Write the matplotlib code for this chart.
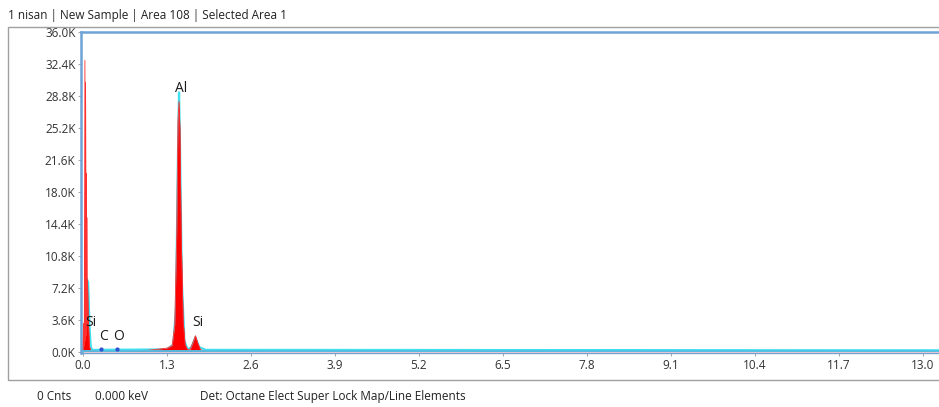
import numpy as np
import matplotlib.pyplot as plt
from matplotlib.patches import Rectangle

plt.rcParams['font.family'] = ['Open Sans', 'DejaVu Sans']

# red spectrum (keV, counts)
energy = [0.0, 0.01, 0.02, 0.03, 0.035, 0.04, 0.045, 0.05, 0.055, 0.06, 0.065,
          0.07, 0.08, 0.09, 0.10, 0.12, 0.26, 0.28, 0.30, 0.50, 0.52, 0.55,
          1.0, 1.3, 1.38, 1.42, 1.45, 1.47, 1.487, 1.50, 1.52, 1.55, 1.58,
          1.62, 1.66, 1.70, 1.74, 1.78, 1.82, 1.9, 13.3]
counts = [0, 3200, 600, 32800, 1200, 30300, 2200, 20100, 1800, 15100, 3200,
          8000, 4200, 2200, 600, 150, 100, 250, 100, 100, 250, 100,
          150, 400, 700, 3000, 13000, 26000, 28200, 25000, 13000, 3500, 800,
          200, 300, 1000, 1800, 900, 200, 100, 60]

# cyan spectrum (outline)
energy2 = [0.0, 0.04, 0.06, 0.08, 0.10, 0.12, 0.14, 1.3, 1.40, 1.44, 1.47,
           1.487, 1.50, 1.53, 1.57, 1.62, 1.68, 1.74, 1.80, 1.9, 13.3]
counts2 = [0, 2000, 8200, 7800, 3000, 600, 200, 250, 800, 5000, 22000,
           29200, 24000, 8000, 1200, 250, 500, 1600, 500, 200, 150]

peak_labels = ['Si', 'C', 'O', 'Al', 'Si']
peak_x = [0.13, 0.32, 0.55, 1.52, 1.78]
peak_y = [3300, 1700, 1700, 29600, 3300]

xticks = [0.0, 1.3, 2.6, 3.9, 5.2, 6.5, 7.8, 9.1, 10.4, 11.7, 13.0]
yticks = [0, 3600, 7200, 10800, 14400, 18000, 21600, 25200, 28800, 32400, 36000]

fig = plt.figure(figsize=(9.39, 4.07), dpi=100)
fig.patches.append(Rectangle((0.0085, 0.066), 1.0, 0.8675, transform=fig.transFigure,
                             fill=False, edgecolor='#a0a0a0', linewidth=1.0))
ax = fig.add_axes([0.0863, 0.1327, 0.9137, 0.7887])

ax.plot(energy2, counts2, color='#40e0f0', linewidth=1.6, zorder=2)
ax.fill_between(energy, counts, color='#ff0000', linewidth=0, zorder=3)
ax.plot(energy, counts, color='#ff3030', linewidth=0.6, zorder=3)
ax.plot([0.0, 13.3], [100, 100], color='#48c8f0', linewidth=1.3, zorder=4)
ax.plot([0.28, 0.52], [250, 250], 'o', color='#3050d0', markersize=2, zorder=5)

for lab, px, py in zip(peak_labels, peak_x, peak_y):
    ax.text(px, py, lab, ha='center', va='center', fontsize=10, color='#1a1a1a', zorder=6)

ax.set_xlim(-0.03, 13.25)
ax.set_ylim(-150, 36000)
ax.set_xticks(xticks)
ax.set_xticklabels(['%.1f' % v for v in xticks])
ax.set_yticks(yticks)
ax.set_yticklabels(['%.1fK' % (v / 1000) for v in yticks])
ax.tick_params(labelsize=8.5, length=2, width=0.6, color='#999999', labelcolor='#333333', pad=2)

for s in ['left', 'top']:
    ax.spines[s].set_color('#6fa3d6')
    ax.spines[s].set_linewidth(1.8)
ax.spines['right'].set_visible(False)
ax.spines['bottom'].set_color('#6fa3d6')
ax.spines['bottom'].set_linewidth(1.0)

fig.text(0.0085, 0.963, '1 nisan | New Sample | Area 108 | Selected Area 1',
         fontsize=8.5, color='#222222', va='center')
fig.text(0.039, 0.027, '0 Cnts', fontsize=8.5, color='#222222', va='center')
fig.text(0.101, 0.027, '0.000 keV', fontsize=8.5, color='#222222', va='center')
fig.text(0.213, 0.027, 'Det: Octane Elect Super Lock Map/Line Elements',
         fontsize=8.5, color='#222222', va='center')

fig.savefig('out.png', dpi=100)
